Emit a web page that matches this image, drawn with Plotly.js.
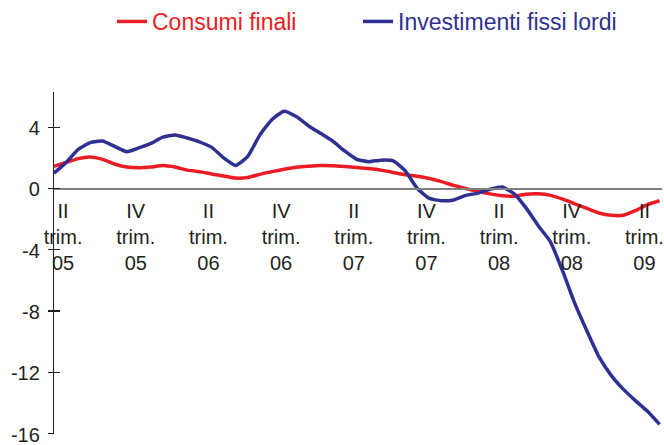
<!DOCTYPE html>
<html>
<head>
<meta charset="utf-8">
<script src="https://cdn.plot.ly/plotly-3.0.1.min.js"></script>
<style>
  html, body { margin: 0; padding: 0; background: #ffffff; }
  #chart { width: 664px; height: 445px; }
</style>
</head>
<body>
<div id="chart"></div>
<script>
// Monthly observations, April 2005 - June 2009 (index 0..50)
const monthIndex = Array.from({length: 51}, (_, i) => i);

const consumiFinali = [
  1.45, 1.7, 1.95, 2.05, 1.9, 1.6, 1.4, 1.35, 1.4, 1.5,
  1.4, 1.2, 1.1, 0.95, 0.82, 0.68, 0.72, 0.92, 1.1, 1.25,
  1.38, 1.45, 1.5, 1.48, 1.43, 1.37, 1.3, 1.2, 1.05, 0.9,
  0.8, 0.65, 0.45, 0.2, 0.0, -0.2, -0.35, -0.47, -0.5, -0.37,
  -0.35, -0.45, -0.7, -1.0, -1.3, -1.6, -1.75, -1.75, -1.45, -1.05,
  -0.8
];

const investimentiFissiLordi = [
  1.0, 1.7, 2.55, 3.0, 3.1, 2.75, 2.4, 2.65, 2.95, 3.35,
  3.5, 3.3, 3.05, 2.7, 2.0, 1.5, 2.1, 3.5, 4.5, 5.05,
  4.7, 4.1, 3.6, 3.1, 2.45, 1.9, 1.75, 1.85, 1.8, 1.15,
  0.0, -0.65, -0.8, -0.75, -0.45, -0.3, -0.05, 0.1, -0.35, -1.3,
  -2.45, -3.5, -5.4, -7.5, -9.3, -11.0, -12.2, -13.1, -13.85, -14.55,
  -15.4
];

const seriesNames = ["Consumi finali", "Investimenti fissi lordi"];
const xTickLabels = [
  "II<br>trim.<br>05", "IV<br>trim.<br>05", "II<br>trim.<br>06", "IV<br>trim.<br>06",
  "II<br>trim.<br>07", "IV<br>trim.<br>07", "II<br>trim.<br>08", "IV<br>trim.<br>08",
  "II<br>trim.<br>09"
];
const yTickValues = [-16, -12, -8, -4, 0, 4];

const RED = "#ED1C24";
const BLUE = "#2E3192";
const TXT = "#231F20";
const FONT = "Arial, 'Liberation Sans', Helvetica, sans-serif";

const yRange = [-16.03, 6.3];
const xRange = [0, 50.2];
const zeroPos = (0 - yRange[0]) / (yRange[1] - yRange[0]);
const xTickVals = xTickLabels.map((_, k) => 0.75 + 6 * k);

const traces = [
  {
    x: monthIndex, y: consumiFinali, type: "scatter", mode: "lines",
    name: '<span style="color:' + RED + '">' + seriesNames[0] + '</span>',
    line: {color: RED, width: 3.5, shape: "spline", smoothing: 0.5}, hoverinfo: "skip",
    legend: "legend"
  },
  {
    x: monthIndex, y: investimentiFissiLordi, type: "scatter", mode: "lines",
    name: '<span style="color:' + BLUE + '">' + seriesNames[1] + '</span>',
    line: {color: BLUE, width: 3.5, shape: "spline", smoothing: 0.5}, hoverinfo: "skip",
    legend: "legend2"
  },
  {
    // invisible copy on the overlay axis so its inner tick marks are drawn
    x: monthIndex, y: consumiFinali, type: "scatter", mode: "none", yaxis: "y2",
    showlegend: false, hoverinfo: "skip"
  }
];

const plotLeft = 54, plotW = 664 - 54 - 2;
const legendCommon = {
  orientation: "h", xref: "paper", y: 1, yref: "container",
  xanchor: "left", yanchor: "top",
  font: {size: 23, family: FONT},
  bgcolor: "rgba(0,0,0,0)"
};

const layout = {
  width: 664, height: 445,
  margin: {l: 54, r: 2, t: 92, b: 11, pad: 0},
  paper_bgcolor: "#ffffff", plot_bgcolor: "#ffffff",
  font: {family: FONT, color: TXT, size: 20},
  showlegend: true,
  legend: Object.assign({}, legendCommon, {x: (112 - plotLeft) / plotW}),
  legend2: Object.assign({}, legendCommon, {x: (358 - plotLeft) / plotW}),
  xaxis: {
    range: xRange, anchor: "free", position: zeroPos,
    showgrid: false, zeroline: false,
    showline: true, linecolor: "#7f7f7f", linewidth: 1.2,
    ticks: "", tickmode: "array", tickvals: xTickVals, ticktext: xTickLabels,
    tickfont: {size: 20, color: TXT, family: FONT},
    ticklabelstandoff: 4, ticklabeloverflow: "allow",
    automargin: false, fixedrange: true
  },
  yaxis: {
    range: yRange, showgrid: false, zeroline: false,
    showline: true, linecolor: TXT, linewidth: 1.2,
    ticks: "outside", ticklen: 5, tickwidth: 1.2, tickcolor: TXT,
    tickmode: "array", tickvals: yTickValues,
    ticktext: yTickValues.map(String),
    tickfont: {size: 20, color: TXT, family: FONT},
    ticklabelstandoff: 4, ticklabelshift: 1, ticklabeloverflow: "allow",
    automargin: false, fixedrange: true
  },
  yaxis2: {
    range: yRange, overlaying: "y", side: "left", anchor: "x",
    showgrid: false, zeroline: false, showline: false,
    ticks: "inside", ticklen: 6, tickwidth: 1.2, tickcolor: TXT,
    tickmode: "array", tickvals: yTickValues, showticklabels: false,
    automargin: false, fixedrange: true
  }
};

Plotly.newPlot("chart", traces, layout, {staticPlot: true, displayModeBar: false});
</script>
</body>
</html>
